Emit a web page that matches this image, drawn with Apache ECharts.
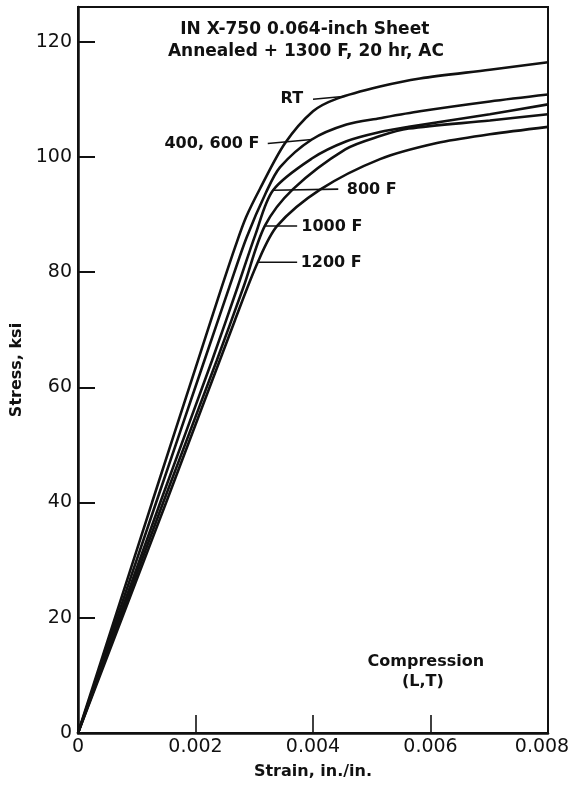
<!DOCTYPE html>
<html>
<head>
<meta charset="utf-8">
<script src="https://cdn.jsdelivr.net/npm/echarts@6/dist/echarts.min.js"></script>
<style>
  html, body { margin: 0; padding: 0; background: #fff; }
  #chart { width: 571px; height: 789px; }
</style>
</head>
<body>
<div id="chart"></div>
<script>
// stress-strain curves (strain in./in., stress ksi)
var rtStrain = [0, 0.00126, 0.00204, 0.00245, 0.00268, 0.00286, 0.0031, 0.00352, 0.0040, 0.00441, 0.00514, 0.00582, 0.00701, 0.008];
var rtStress = [0, 40, 64.6, 77.5, 84.5, 89.5, 94.5, 102.3, 107.9, 110.1, 112.2, 113.6, 115.1, 116.4];

var f600Strain = [0, 0.00133, 0.00215, 0.00258, 0.00287, 0.0032, 0.00344, 0.00398, 0.00457, 0.00514, 0.00582, 0.00701, 0.008];
var f600Stress = [0, 40, 64.6, 77.5, 86, 93.8, 98.2, 103.0, 105.6, 106.7, 107.9, 109.6, 110.8];

var f800Strain = [0, 0.0014, 0.00228, 0.00272, 0.00302, 0.00332, 0.00398, 0.00457, 0.00514, 0.00563, 0.00701, 0.008];
var f800Stress = [0, 40, 64.6, 77.5, 86.5, 94.2, 99.7, 102.7, 104.3, 105.2, 107.4, 109.1];

var f1000Strain = [0, 0.00145, 0.00236, 0.00282, 0.00318, 0.00366, 0.00455, 0.00514, 0.00563, 0.00701, 0.008];
var f1000Stress = [0, 40, 64.6, 77.5, 88.0, 94.4, 101.3, 103.6, 104.9, 106.3, 107.4];

var f1200Strain = [0, 0.0015, 0.00267, 0.00306, 0.00339, 0.00412, 0.00514, 0.00611, 0.00701, 0.008];
var f1200Stress = [0, 40, 71.6, 81.7, 88.0, 94.3, 99.6, 102.4, 103.9, 105.2];

// curve labels and their leader lines
var labelText   = ['RT', '400, 600 F', '800 F', '1000 F', '1200 F'];
var labelStrain = [0.00364, 0.00228, 0.00500, 0.00432, 0.00431];
var labelStress = [110.1, 102.2, 94.2, 87.8, 81.6];
var leaderFrom  = [[0.0040, 110.0], [0.00323, 102.3], [0.00332, 94.2], [0.00318, 88.0], [0.00306, 81.7]];
var leaderTo    = [[0.00455, 110.5], [0.00398, 103.0], [0.00443, 94.4], [0.00373, 88.0], [0.00373, 81.7]];

// notes
var titleText   = ['IN X-750 0.064-inch Sheet', 'Annealed + 1300 F, 20 hr, AC'];
var titleStrain = [0.00386, 0.00388];
var titleStress = [122.1, 118.3];
var noteText   = ['Compression', '(L,T)'];
var noteStrain = [0.00592, 0.00587];
var noteStress = [12.3, 8.8];

var xTicks = { min: 0, max: 0.008, step: 0.002 };
var yTicks = { min: 0, max: 126, step: 20 };

var chart = echarts.init(document.getElementById('chart'));

var zip = function (xs, ys) { return xs.map(function (x, i) { return [x, ys[i]]; }); };

var curves = [
  zip(rtStrain, rtStress),
  zip(f600Strain, f600Stress),
  zip(f800Strain, f800Stress),
  zip(f1000Strain, f1000Stress),
  zip(f1200Strain, f1200Stress)
];

var ink = '#111';
var series = [];

curves.forEach(function (pts, i) {
  series.push({
    name: labelText[i],
    type: 'line',
    data: pts,
    smooth: 0.3,
    showSymbol: false,
    silent: true,
    lineStyle: { color: ink, width: 2.6 }
  });
});

leaderFrom.forEach(function (p, i) {
  series.push({
    type: 'line',
    data: [p, leaderTo[i]],
    showSymbol: false,
    silent: true,
    lineStyle: { color: ink, width: 1.6 }
  });
});

var textSeries = function (texts, xs, ys, size) {
  return {
    type: 'scatter',
    symbolSize: 0,
    silent: true,
    itemStyle: { opacity: 1 },
    data: texts.map(function (t, i) { return [xs[i], ys[i], t]; }),
    label: {
      show: true,
      position: 'inside',
      opacity: 1,
      formatter: function (p) { return p.value[2]; },
      color: ink,
      fontFamily: 'DejaVu Sans',
      fontWeight: 'bold',
      fontSize: size
    }
  };
};

series.push(textSeries(labelText, labelStrain, labelStress, 16));
series.push(textSeries(titleText, titleStrain, titleStress, 17));
series.push(textSeries(noteText, noteStrain, noteStress, 16));

var option = {
  backgroundColor: '#fff',
  animation: false,
  grid: {
    left: 78, right: 23, top: 7, bottom: 56,
    show: true,
    borderColor: ink,
    borderWidth: 2,
    outerBoundsMode: 'none'
  },
  xAxis: {
    type: 'value',
    min: xTicks.min,
    max: xTicks.max,
    interval: xTicks.step,
    axisLine: { lineStyle: { color: ink, width: 2.5 } },
    axisTick: { inside: true, length: 18, lineStyle: { color: ink, width: 1.6 } },
    axisLabel: {
      color: ink,
      fontFamily: 'DejaVu Sans',
      fontSize: 19,
      margin: 5,
      formatter: function (v) {
        if (v === 0) return '0';
        if (Math.abs(v - xTicks.max) < 1e-9) return '{last|' + v.toFixed(3) + '}';
        return v.toFixed(3);
      },
      rich: {
        last: { color: ink, fontFamily: 'DejaVu Sans', fontSize: 19, padding: [0, 12, 0, 0] }
      }
    },
    splitLine: { show: false },
    name: 'Strain, in./in.',
    nameLocation: 'middle',
    nameGap: 31,
    nameTextStyle: { color: ink, fontFamily: 'DejaVu Sans', fontWeight: 'bold', fontSize: 16 }
  },
  yAxis: {
    type: 'value',
    min: yTicks.min,
    max: yTicks.max,
    interval: yTicks.step,
    axisLine: { lineStyle: { color: ink, width: 2.5 } },
    axisTick: { inside: true, length: 17, lineStyle: { color: ink, width: 2 } },
    axisLabel: {
      color: ink,
      fontFamily: 'DejaVu Sans',
      fontSize: 19,
      margin: 6,
      showMaxLabel: false
    },
    splitLine: { show: false },
    name: 'Stress, ksi',
    nameLocation: 'middle',
    nameGap: 52,
    nameTextStyle: { color: ink, fontFamily: 'DejaVu Sans', fontWeight: 'bold', fontSize: 16 }
  },
  series: series
};

chart.setOption(option);
</script>
</body>
</html>
